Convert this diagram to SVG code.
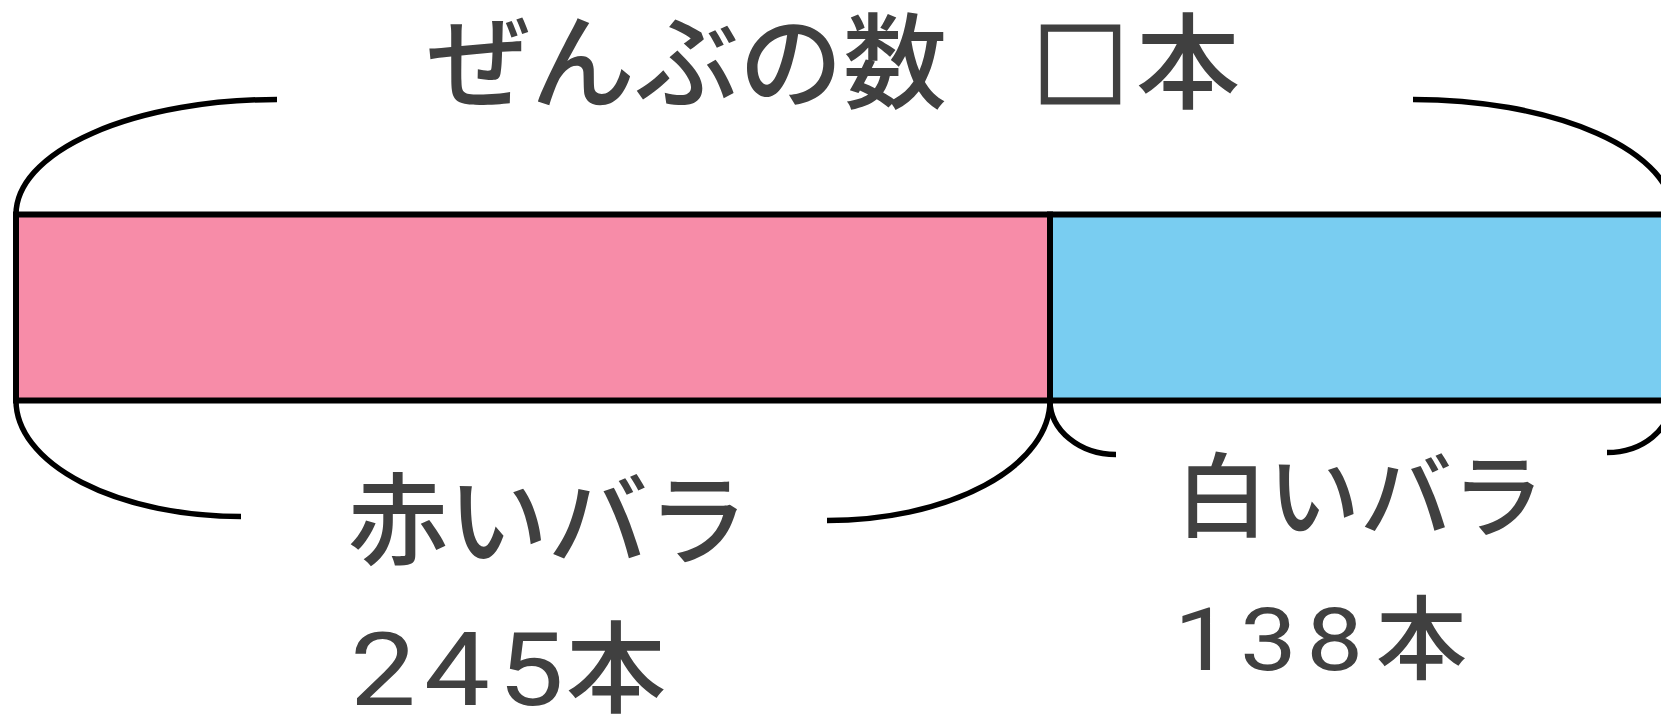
<svg xmlns="http://www.w3.org/2000/svg" width="1661" height="715" viewBox="0 0 1661 715">
<style>
.t{font-family:"Noto Sans CJK JP","Noto Sans CJK SC",sans-serif;fill:#404040;font-weight:500}
.d{font-family:Roboto,"Liberation Sans",sans-serif;fill:#404040}
.br{fill:none;stroke:#000;stroke-width:5.5;stroke-linecap:butt}
.bar{stroke:#000;stroke-width:6}
</style>
<rect width="1661" height="715" fill="#fff"/>
<g id="bar-red"><rect class="bar" x="16" y="214.5" width="1034" height="186" fill="#F78CA8"/></g>
<g id="bar-white"><rect class="bar" x="1050" y="214.5" width="623" height="186" fill="#79CDF1"/></g>
<g id="braces">
<path class="br" d="M16 214.5 A261 115 0 0 1 277 99.5"/>
<path class="br" d="M1413 99.5 A260 115 0 0 1 1673 214.5"/>
<path class="br" d="M16 400.5 A225 116 0 0 0 241 516.5"/>
<path class="br" d="M827 520.5 A223 120 0 0 0 1050 400.5"/>
<path class="br" d="M1050 400.5 A66 54 0 0 0 1116 454.5"/>
<path class="br" d="M1607 452.5 A64 52 0 0 0 1671 400.5"/>
</g>
<g id="label-total">
<text class="t" x="427" y="101" font-size="104">ぜんぶの数</text>
<text class="t" x="1033" y="101" font-size="104"><tspan font-size="95" stroke="#404040" stroke-width="3.5">□</tspan><tspan x="1136">本</tspan></text>
</g>
<g id="label-red">
<text class="t" x="348" y="557" font-size="100">赤いバラ</text>
<text class="d" transform="translate(350 705) scale(1.15 1)" font-size="102" letter-spacing="7">245</text>
<text class="t" x="566" y="705" font-size="100">本</text>
</g>
<g id="label-white">
<text class="t" x="1176" y="530" font-size="92">白いバラ</text>
<text class="d" transform="translate(1174 670) scale(1.15 1)" font-size="88" letter-spacing="8">138</text>
<text class="t" x="1376" y="672" font-size="91">本</text>
</g>
</svg>
